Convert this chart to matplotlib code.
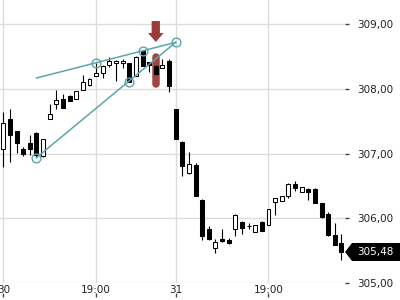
import matplotlib
matplotlib.use('Agg')
import matplotlib.pyplot as plt
from matplotlib.patches import Polygon
from matplotlib.ticker import FuncFormatter
import matplotlib.transforms as mtransforms

# candle data (index = bar number)
opens = [307.069, 307.533, 307.347, 307.069, 307.162, 307.317, 306.961, 307.533,
         307.764, 307.842, 307.888, 307.842, 307.981, 308.058, 308.197, 308.243,
         308.367, 308.398, 308.398, 308.398, 308.197, 308.583, 308.413, 308.351,
         308.320, 308.429, 307.687, 307.178, 306.699, 306.822, 306.282, 305.834,
         305.541, 305.680, 305.664, 305.834, 305.942, 305.880, 305.788, 305.942,
         305.896, 306.251, 306.266, 306.344, 306.529, 306.405, 306.452, 306.452,
         306.236, 306.066, 305.741, 305.618]
closes = [307.471, 307.286, 307.162, 306.992, 307.069, 306.977, 307.224, 307.610,
          307.826, 307.703, 307.811, 307.965, 308.104, 308.151, 308.243, 308.351,
          308.429, 308.429, 308.429, 308.104, 308.490, 308.351, 308.367, 308.228,
          308.367, 308.042, 307.224, 306.807, 306.838, 306.344, 305.726, 305.680,
          305.633, 305.649, 305.618, 306.050, 305.849, 305.876, 305.896, 305.803,
          306.143, 306.313, 306.344, 306.529, 306.467, 306.483, 306.405, 306.236,
          306.019, 305.741, 305.587, 305.479]
highs = [307.641, 307.687, 307.350, 307.100, 307.286, 307.330, 307.230, 307.764,
         307.981, 307.919, 307.900, 307.970, 308.212, 308.170, 308.400, 308.360,
         308.490, 308.440, 308.459, 308.400, 308.500, 308.590, 308.420, 308.360,
         308.459, 308.459, 307.690, 307.190, 307.023, 306.850, 306.290, 305.880,
         305.680, 305.834, 305.695, 306.060, 305.950, 305.927, 305.900, 305.950,
         306.150, 306.320, 306.350, 306.540, 306.575, 306.490, 306.460, 306.460,
         306.240, 306.097, 305.927, 305.757]
lows = [306.792, 306.869, 307.008, 306.960, 306.977, 306.950, 306.950, 307.530,
        307.687, 307.700, 307.810, 307.840, 307.980, 308.050, 308.197, 308.166,
        308.336, 308.120, 308.320, 308.100, 308.190, 308.350, 308.259, 308.220,
        308.320, 307.950, 307.220, 306.653, 306.690, 306.340, 305.664, 305.670,
        305.463, 305.640, 305.610, 305.726, 305.757, 305.834, 305.780, 305.800,
        305.890, 306.050, 306.260, 306.310, 306.421, 306.400, 306.282, 306.230,
        306.010, 305.730, 305.580, 305.355]

# x labels
tick_pos = [0, 14, 26, 40]
tick_labels = ['30', '19:00', '31', '19:00']
y_ticks = [305, 306, 307, 308, 309]

# drawn trend lines and pivot points
upper_x = [5, 26]
upper_y = [308.166, 308.717]
lower_x = [5, 26]
lower_y = [306.935, 308.717]
pivot_x = [5, 14, 19, 21, 26]
pivot_y = [306.935, 308.400, 308.110, 308.586, 308.717]

# signal bar
signal_bar = 23
signal_low = 308.070
signal_high = 308.494
arrow_top = 309.046
arrow_bottom = 308.722

teal = '#5ea5ab'
red = '#9c3b36'

fig = plt.figure(figsize=(4, 3), dpi=100)
ax = fig.add_axes([0.0, 17 / 300, 345 / 400, 283 / 300])
ax.set_xlim(-0.5, 51.54)
ax.set_ylim(305.0, 309.371)

for s in ax.spines.values():
    s.set_visible(False)

# grid
for y in y_ticks:
    ax.axhline(y, color='#dcdcdc', lw=1, zorder=0)
for x in tick_pos:
    ax.axvline(x, color='#dcdcdc', lw=1, zorder=0)

# highlight + arrow
ax.plot([signal_bar, signal_bar], [signal_low, signal_high], color=red,
        lw=5.4, solid_capstyle='round', alpha=0.95, zorder=1)
ax.arrow(signal_bar, arrow_top, 0, arrow_bottom - arrow_top, width=1.25,
         head_width=2.35, head_length=0.14, length_includes_head=True,
         color=red, lw=0, zorder=3)

# candles
xs = list(range(len(opens)))
ax.vlines(xs, lows, highs, color='black', lw=0.8, zorder=2)
for x, o, c in zip(xs, opens, closes):
    up = c >= o
    h = abs(c - o)
    if h < 0.01:
        h = 0.005
    ax.bar(x, h, bottom=min(o, c), width=0.6,
           facecolor='white' if up else 'black', edgecolor='black',
           lw=0.75, zorder=2.5)

# trend lines
ax.plot(upper_x, upper_y, color=teal, lw=1.1, zorder=4)
ax.plot(lower_x, lower_y, color=teal, lw=1.1, zorder=4)
ax.plot(pivot_x, pivot_y, 'o', ms=6.3, mfc='none', mec=teal, mew=1, zorder=4)

# x axis
ax.set_xticks(tick_pos)
ax.set_xticklabels(tick_labels)
ax.tick_params(axis='x', length=0, pad=1.5, labelsize=7.5, labelcolor='#222222')
sec = ax.secondary_xaxis(-14 / 283)
sec.set_xticks(tick_pos)
sec.tick_params(axis='x', direction='in', length=3, width=1, color='#444444',
                labelbottom=False)
sec.spines['bottom'].set_visible(False)

# y axis on right
ax.yaxis.tick_right()
ax.set_yticks(y_ticks)
ax.yaxis.set_major_formatter(FuncFormatter(lambda v, p: ('%.2f' % v).replace('.', ',')))
ax.tick_params(axis='y', direction='out', length=3, width=1, color='#444444',
               pad=6, labelsize=7.5, labelcolor='#222222')

# last price tag
last = closes[-1]
trans = mtransforms.blended_transform_factory(fig.transFigure, ax.transData)
hh = 0.139
tag = Polygon([(345 / 400, last), (352 / 400, last + hh), (1.0, last + hh),
               (1.0, last - hh), (352 / 400, last - hh)], closed=True,
              facecolor='black', edgecolor='none', transform=trans,
              clip_on=False, zorder=5)
ax.add_patch(tag)
ax.text(375 / 400, last, ('%.2f' % last).replace('.', ','), transform=trans,
        color='white', fontsize=7.5, ha='center', va='center', zorder=6)

plt.savefig('out.png', dpi=100)
